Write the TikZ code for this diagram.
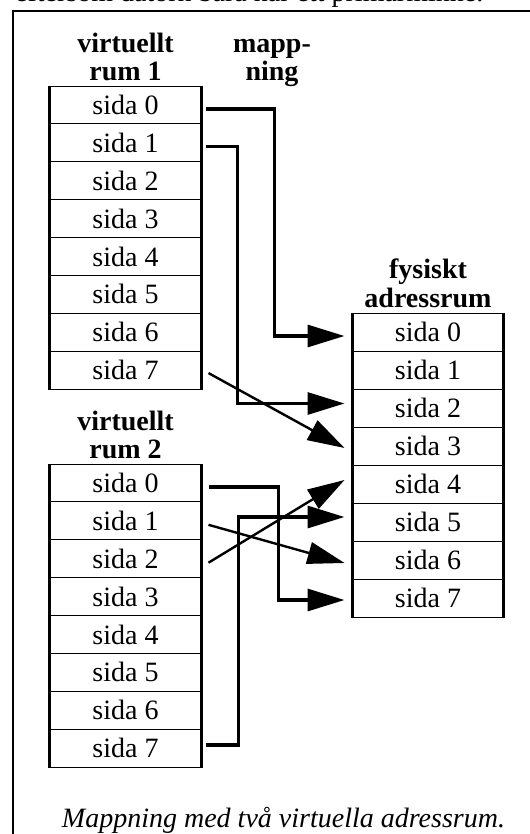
\documentclass[tikz,border=0pt]{standalone}
\usepackage{fontspec}
\setmainfont{Liberation Serif}
\usetikzlibrary{arrows.meta,calc}

\begin{document}
\begin{tikzpicture}[x=1bp,y=-1bp,
  every node/.style={font=\fontsize{28bp}{28bp}\selectfont, inner sep=0pt},
  pagecell/.style={draw, line width=1bp, minimum width=151bp, minimum height=37.875bp},
  physcell/.style={draw, line width=1bp, minimum width=150bp, minimum height=38bp},
  header/.style={font=\fontsize{28bp}{28bp}\selectfont\bfseries, anchor=base},
  side/.style={line width=3bp},
  elbow/.style={line width=3.2bp, -{Triangle[length=37bp,width=22bp]}},
  slant/.style={line width=2.4bp, -{Triangle[length=37bp,width=22bp]}},
  frame/.style={line width=1.2bp}
]
\useasboundingbox (0,0) rectangle (530,834);
\clip (0,0) rectangle (530,834);

% running text above the figure frame
\node[anchor=base west] (runtext) at (15,1) {eftersom datorn bara har ett primärminne.};

% figure frame
\draw[frame] (13,840) -- (13,11) -- (540,11);

% virtual address space 1
\node[header] (h1a) at (125.5,52) {virtuellt};
\node[header] (h1b) at (125.5,80) {rum 1};
\foreach \i in {0,...,7}
  \node[pagecell] (a\i) at (125.5,{86+18.9375+37.875*\i}) {sida \i};
\draw[side] (a0.north west) -- (a7.south west);
\draw[side] (a0.north east) -- (a7.south east);

% virtual address space 2
\node[header] (h2a) at (125.5,430) {virtuellt};
\node[header] (h2b) at (125.5,458) {rum 2};
\foreach \i in {0,...,7}
  \node[pagecell] (b\i) at (125.5,{464+18.9375+37.875*\i}) {sida \i};
\draw[side] (b0.north west) -- (b7.south west);
\draw[side] (b0.north east) -- (b7.south east);

% mapping label
\node[header] (m1) at (272,52) {mapp-};
\node[header] (m2) at (272,80) {ning};

% physical address space
\node[header] (h3a) at (428,278) {fysiskt};
\node[header] (h3b) at (428,307) {adressrum};
\foreach \i in {0,...,7}
  \node[physcell] (f\i) at (428,{313+19+38*\i}) {sida \i};
\draw[side] (f0.north west) -- (f7.south west);
\draw[side] (f0.north east) -- (f7.south east);

% mappings from space 1
\draw[elbow] ($(a0.east)+(4,4)$) -- ++(69,0) |- ($(f0.west)+(-8,4)$);
\draw[elbow] ($(a1.east)+(4,4)$) -- ++(32,0) |- ($(f2.west)+(-8,-4.5)$);
\draw[slant] ($(a7.east)+(7,3)$) -- ($(f3.west)+(-8,2)$);

% mappings from space 2
\draw[elbow] ($(b0.east)+(7,4)$) -- ++(70,0) |- ($(f7.west)+(-8,2)$);
\draw[slant] ($(b1.east)+(7,4)$) -- ($(f6.west)+(-8,3)$);
\draw[slant] ($(b2.east)+(7,4)$) -- ($(f4.west)+(-8,-4)$);
\draw[elbow] ($(b7.east)+(4,-3)$) -- ++(33,0) |- ($(f5.west)+(-8,-5)$);

% caption
\node[anchor=base, font=\fontsize{28bp}{28bp}\selectfont\itshape] (cap) at (283.5,827) {Mappning med två virtuella adressrum.};
\end{tikzpicture}
\end{document}
